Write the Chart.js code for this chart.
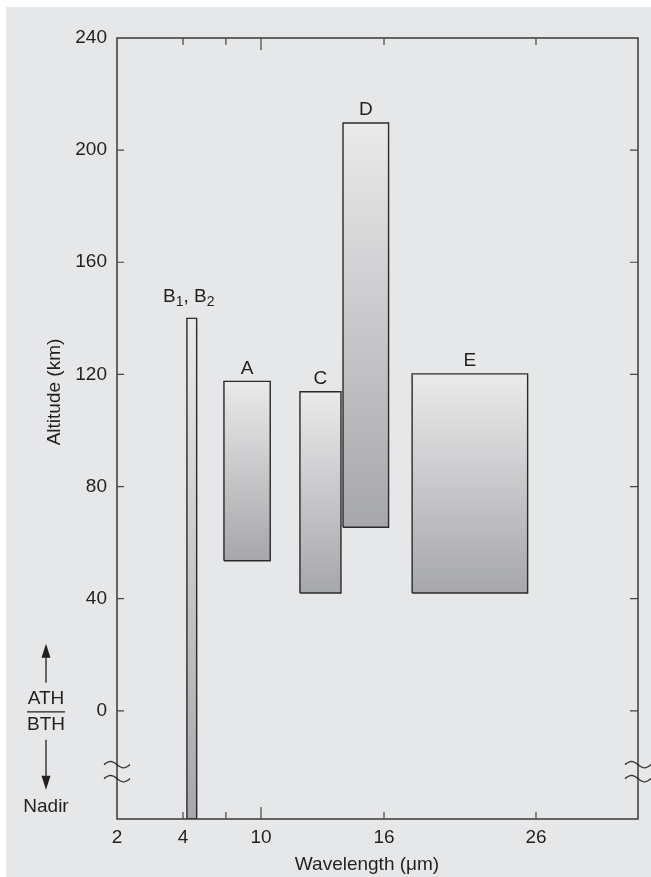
<!DOCTYPE html>
<html>
<head>
<meta charset="utf-8">
<script src="https://cdn.jsdelivr.net/npm/chart.js@4.4.1/dist/chart.umd.min.js"></script>
<style>
  html, body { margin: 0; padding: 0; background: #fff; }
  #wrap { position: absolute; left: 6px; top: 7px; width: 645px; height: 870px; background: #e6e7e8; }
  canvas { display: block; }
</style>
</head>
<body>
<div id="wrap"><canvas id="chart" width="645" height="870"></canvas></div>
<script>
// spectral bands (µm) and the altitude range they cover (km)
const bandNames = ['B', 'A', 'C', 'D', 'E'];
const bandFrom = [4.3, 7.15, 11.9, 14.0, 17.85];
const bandTo = [5.05, 10.45, 13.9, 16.3, 25.45];
const altLow = [null, 53.5, 42, 65.5, 42];   // null -> down to nadir
const altHigh = [140, 117.5, 113.8, 209.7, 120.2];

const xTickValues = [2, 4, 7.3, 10, 16, 26];
const xTickLabels = ['2', '4', '', '10', '16', '26'];
const yTickValues = [0, 40, 80, 120, 160, 200, 240];

const yMin = -38.6, yMax = 240;
const breakAt = -21.7;

// wavelength axis is schematic, not linear: [µm, share of axis width]
const axisStops = [[2, 0], [4, 0.1267], [10, 0.2764], [16, 0.5125], [26, 0.8042], [32.7, 1]];

function pos(w) {
    for (let i = 1; i < axisStops.length; i++) {
        const [w0, p0] = axisStops[i - 1];
        const [w1, p1] = axisStops[i];
        if (w <= w1 || i === axisStops.length - 1) {
            return p0 + (w - w0) / (w1 - w0) * (p1 - p0);
        }
    }
}

const ink = '#231f20';
const font = { family: "'Liberation Sans', Arial, Helvetica, sans-serif", size: 19 };
const fontStr = `19px ${font.family}`;

function barGradient(chart, lo, hi) {
    const y = chart.scales.y;
    if (!chart.chartArea || !y) return '#cccccc';
    const g = chart.ctx.createLinearGradient(0, y.getPixelForValue(hi), 0, y.getPixelForValue(lo));
    g.addColorStop(0, '#eaeaeb');
    g.addColorStop(1, '#a6a7aa');
    return g;
}

const datasets = bandNames.map((name, i) => {
    const lo = altLow[i] === null ? yMin : altLow[i];
    const hi = altHigh[i];
    const x0 = pos(bandFrom[i]), x1 = pos(bandTo[i]);
    return {
        label: name,
        data: [{ x: x0, y: lo }, { x: x0, y: hi }, { x: x1, y: hi }, { x: x1, y: lo }, { x: x0, y: lo }],
        fill: 'shape',
        backgroundColor: ctx => barGradient(ctx.chart, lo, hi),
        borderColor: '#2a2a2a',
        borderWidth: 1.4,
        pointRadius: 0,
        tension: 0
    };
});

function tilde(ctx, cx, cy) {
    ctx.beginPath();
    for (let t = 0; t <= 1.0001; t += 0.05) {
        const px = cx - 13 + 26 * t;
        const py = cy - 3.2 * Math.sin(2 * Math.PI * t);
        if (t === 0) ctx.moveTo(px, py); else ctx.lineTo(px, py);
    }
    ctx.stroke();
}

function arrow(ctx, x, yFrom, yTip) {
    const dir = yTip < yFrom ? -1 : 1;
    ctx.beginPath();
    ctx.moveTo(x, yFrom);
    ctx.lineTo(x, yTip - dir * 10);
    ctx.stroke();
    ctx.beginPath();
    ctx.moveTo(x, yTip);
    ctx.lineTo(x - 4.5, yTip - dir * 14);
    ctx.lineTo(x + 4.5, yTip - dir * 14);
    ctx.closePath();
    ctx.fill();
}

const decor = {
    id: 'decor',
    afterDatasetsDraw(chart) {
        const { ctx, chartArea: a, scales: { x, y } } = chart;
        ctx.save();

        // frame
        ctx.strokeStyle = '#3a3a3a';
        ctx.lineWidth = 1.5;
        ctx.strokeRect(a.left, a.top, a.right - a.left, a.bottom - a.top);

        // inward tick marks
        ctx.lineWidth = 1.2;
        ctx.strokeStyle = '#444';
        ctx.beginPath();
        yTickValues.forEach(v => {
            if (v === yMax) return;
            const py = y.getPixelForValue(v);
            ctx.moveTo(a.left, py); ctx.lineTo(a.left + 7, py);
            ctx.moveTo(a.right, py); ctx.lineTo(a.right - 8, py);
        });
        xTickValues.forEach(v => {
            if (v === 2) return;
            const px = x.getPixelForValue(pos(v));
            const len = v === 10 ? 12 : 7;
            ctx.moveTo(px, a.bottom); ctx.lineTo(px, a.bottom - len);
            ctx.moveTo(px, a.top); ctx.lineTo(px, a.top + len);
        });
        ctx.stroke();

        // axis breaks
        ctx.lineWidth = 1.3;
        ctx.strokeStyle = '#333';
        const by = y.getPixelForValue(breakAt);
        [a.left, a.right].forEach(bx => {
            tilde(ctx, bx, by - 7);
            tilde(ctx, bx, by + 7);
        });

        // band labels
        ctx.fillStyle = ink;
        ctx.font = fontStr;
        ctx.textAlign = 'center';
        ctx.textBaseline = 'middle';
        bandNames.forEach((name, i) => {
            const cx = (x.getPixelForValue(pos(bandFrom[i])) + x.getPixelForValue(pos(bandTo[i]))) / 2;
            const top = y.getPixelForValue(altHigh[i]);
            if (name === 'B') {
                const sub = `14px ${font.family}`;
                const parts = [['B', fontStr, 0], ['1', sub, 6], [', B', fontStr, 0], ['2', sub, 6]];
                let w = 0;
                parts.forEach(p => { ctx.font = p[1]; w += ctx.measureText(p[0]).width; });
                let px = cx - 3 - w / 2;
                ctx.textAlign = 'left';
                parts.forEach(p => {
                    ctx.font = p[1];
                    ctx.fillText(p[0], px, top - 22 + p[2]);
                    px += ctx.measureText(p[0]).width;
                });
                ctx.textAlign = 'center';
                ctx.font = fontStr;
            } else {
                ctx.fillText(name, cx, top - 13);
            }
        });

        // ATH / BTH marker on the left
        const y0 = y.getPixelForValue(0);
        const mx = 40;
        ctx.fillText('ATH', mx, y0 - 12);
        ctx.fillText('BTH', mx, y0 + 14);
        ctx.fillText('Nadir', mx, y0 + 96);
        ctx.strokeStyle = ink;
        ctx.lineWidth = 1.3;
        ctx.beginPath();
        ctx.moveTo(mx - 19, y0 + 1); ctx.lineTo(mx + 19, y0 + 1);
        ctx.stroke();
        arrow(ctx, mx, y0 - 28, y0 - 67);
        arrow(ctx, mx, y0 + 29, y0 + 79);

        // axis titles
        ctx.fillText('Wavelength (\u03bcm)', 361, 858);
        ctx.translate(49, 385);
        ctx.rotate(-Math.PI / 2);
        ctx.fillText('Altitude (km)', 0, 0);

        ctx.restore();
    }
};

new Chart(document.getElementById('chart').getContext('2d'), {
    type: 'line',
    data: { datasets },
    options: {
        responsive: false,
        animation: false,
        events: [],
        layout: { padding: { top: 31, right: 13, left: 0, bottom: 0 } },
        plugins: { legend: { display: false }, tooltip: { enabled: false } },
        scales: {
            x: {
                type: 'linear',
                min: 0,
                max: 1,
                grid: { display: false, drawTicks: false },
                border: { display: false },
                afterBuildTicks: s => { s.ticks = xTickValues.map(v => ({ value: pos(v) })); },
                afterFit: s => { s.height = 58; },
                ticks: {
                    autoSkip: false,
                    maxRotation: 0,
                    padding: 7,
                    color: ink,
                    font,
                    callback: (v, i) => xTickLabels[i]
                }
            },
            y: {
                type: 'linear',
                min: yMin,
                max: yMax,
                grid: { display: false, drawTicks: false },
                border: { display: false },
                afterBuildTicks: s => { s.ticks = yTickValues.map(v => ({ value: v })); },
                afterFit: s => { s.width = 111; },
                ticks: { padding: 10, color: ink, font }
            }
        }
    },
    plugins: [decor]
});
</script>
</body>
</html>
